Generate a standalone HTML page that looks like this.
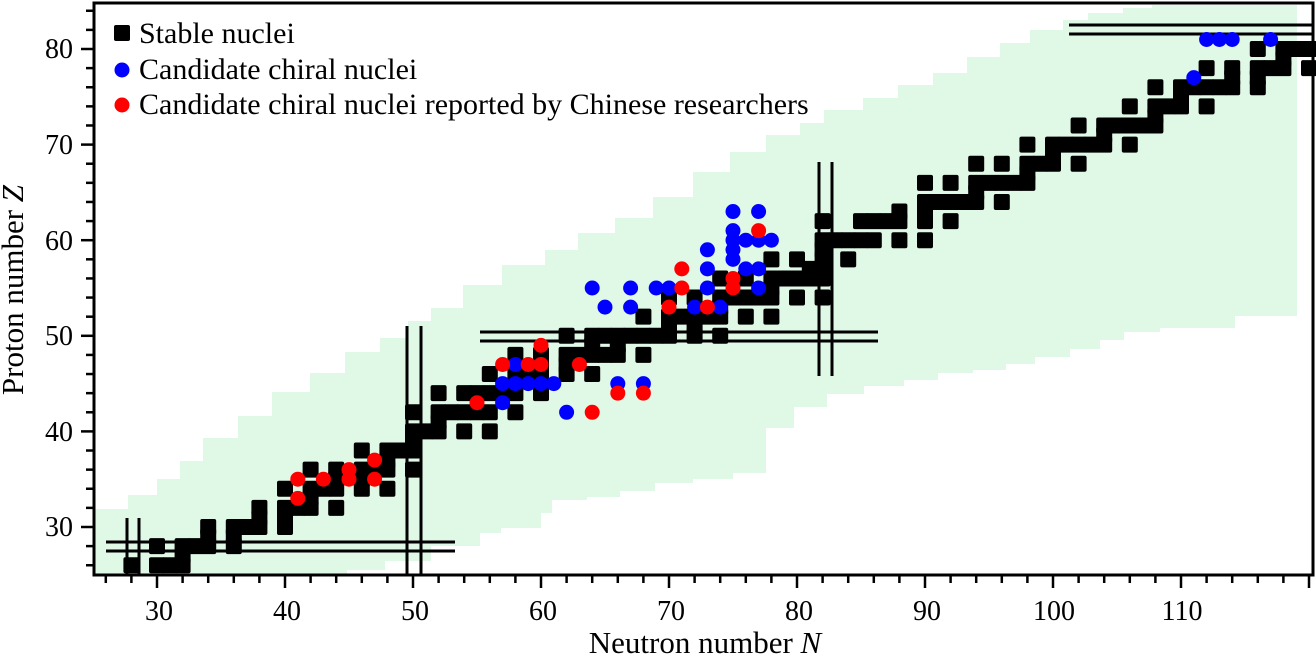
<!DOCTYPE html>
<html><head><meta charset="utf-8"><style>
html,body{margin:0;padding:0;background:#fff;}
svg{display:block;font-family:"Liberation Serif",serif;}
</style></head><body>
<svg id="s" width="1316" height="659" viewBox="0 0 1316 659" xmlns="http://www.w3.org/2000/svg">
<polygon fill="#e0f8e6" points="94,574 94,509 128,509 128,495 157,495 157,479 180,479 180,461 203,461 203,438 238,438 238,416 272,416 272,392 310,392 310,373 345,373 345,352 380,352 380,338 408,338 408,321 431,321 431,308 463,308 463,285 502,285 502,265 545,265 545,250 578,250 578,233 615,233 615,218 653,218 653,197 693,197 693,172 730,172 730,152 766,152 766,135 800,135 800,123 824,123 824,110 863,110 863,98 898,98 898,85 933,85 933,73 967,73 967,57 1000,57 1000,43 1030,43 1030,30 1063,30 1063,20 1088,20 1088,13 1123,13 1123,8 1152,8 1152,5 1297,5 1297,316 1235,316 1235,328 1160,328 1160,332 1124,332 1124,340 1100,340 1100,349 1070,349 1070,357 1035,357 1035,364 1006,364 1006,370 973,370 973,373 938,373 938,380 904,380 904,386 864,386 864,394 827,394 827,407 794,407 794,428 766,428 766,473 733,473 733,479 693,479 693,483 655,483 655,491 620,491 620,497 587,497 587,500 552,500 552,513 541,513 541,528 501,528 501,533 480,533 480,546 431,546 431,561 385,561 385,570 347,570 347,574"/>
<g id="sq"></g>
<g stroke="#000" stroke-width="3" fill="none">
<line x1="127" y1="518" x2="127" y2="574"/><line x1="139" y1="518" x2="139" y2="574"/>
<line x1="106" y1="542" x2="455" y2="542"/><line x1="106" y1="551" x2="455" y2="551"/>
<line x1="407" y1="326" x2="407" y2="574"/><line x1="421" y1="326" x2="421" y2="574"/>
<line x1="480" y1="332" x2="878" y2="332"/><line x1="480" y1="341" x2="878" y2="341"/>
<line x1="819" y1="162" x2="819" y2="376"/><line x1="832" y1="162" x2="832" y2="376"/>
<line x1="1069" y1="25" x2="1313" y2="25"/><line x1="1069" y1="34" x2="1313" y2="34"/>
</g>
<g id="dots"></g>
<rect x="94" y="3" width="1219" height="572" fill="none" stroke="#000" stroke-width="3"/>
<g id="ticks" stroke="#000" stroke-width="2.5"></g>
<g font-size="28" fill="#000">
<text x="73" y="58" text-anchor="end">80</text>
<text x="73" y="154" text-anchor="end">70</text>
<text x="73" y="250" text-anchor="end">60</text>
<text x="73" y="345" text-anchor="end">50</text>
<text x="73" y="441" text-anchor="end">40</text>
<text x="73" y="536" text-anchor="end">30</text>
<text x="159" y="620" text-anchor="middle">30</text>
<text x="287" y="620" text-anchor="middle">40</text>
<text x="415" y="620" text-anchor="middle">50</text>
<text x="543" y="620" text-anchor="middle">60</text>
<text x="671" y="620" text-anchor="middle">70</text>
<text x="799" y="620" text-anchor="middle">80</text>
<text x="927" y="620" text-anchor="middle">90</text>
<text x="1054" y="620" text-anchor="middle">100</text>
<text x="1182" y="620" text-anchor="middle">110</text>
<text x="705" y="653" text-anchor="middle" font-size="31">Neutron number <tspan font-style="italic">N</tspan></text>
<text transform="translate(23,290) rotate(-90)" text-anchor="middle" font-size="31">Proton number <tspan font-style="italic">Z</tspan></text>
<rect x="114" y="25" width="16" height="16" rx="2"/>
<text x="139" y="43" font-size="30">Stable nuclei</text>
<circle cx="122" cy="70" r="7.5" fill="#0000ff"/>
<text x="139" y="79" font-size="30">Candidate chiral nuclei</text>
<circle cx="122" cy="105" r="7.5" fill="#ff0000"/>
<text x="139" y="114" font-size="30">Candidate chiral nuclei reported by Chinese researchers</text>
</g>
</svg>
<script>
function X(n){return 157+(n-30)*12.8;}
function Y(z){return 527-(z-30)*9.56;}
var st={26:[28,30,31,32],27:[32],28:[30,32,33,34,36],29:[34,36],30:[34,36,37,38,40],31:[38,40],32:[38,40,41,42,44],33:[42],34:[40,42,43,44,46,48],35:[44,46],36:[42,44,46,47,48,50],37:[48],38:[46,48,49,50],39:[50],40:[50,51,52,54,56],41:[52],42:[50,52,53,54,55,56,58],44:[52,54,55,56,57,58,60],45:[58],46:[56,58,59,60,62,64],47:[60,62],48:[58,60,62,63,64,65,66,68],49:[64,66],50:[62,64,65,66,67,68,69,70,72,74],51:[70,72],52:[68,70,71,72,73,74,76,78],53:[74],54:[70,72,74,75,76,77,78,80,82],55:[78],56:[74,76,78,79,80,81,82],57:[81,82],58:[78,80,82,84],59:[82],60:[82,83,84,85,86,88,90],62:[82,85,86,87,88,90,92],63:[88,90],64:[90,91,92,93,94,96],65:[94],66:[90,92,94,95,96,97,98],67:[98],68:[94,96,98,99,100,102],69:[100],70:[98,100,101,102,103,104,106],71:[104],72:[102,104,105,106,107,108],73:[108],74:[106,108,109,110,112],75:[110],76:[108,110,111,112,113,114,116],77:[114,116],78:[112,114,116,117,118,120],79:[118],80:[116,118,119,120,121,122,124]};
var h="";
for(var z in st){st[z].forEach(function(n){var x=X(n),y=Y(+z);if(x>1320)return;
h+='<rect x="'+(x-8)+'" y="'+(y-8)+'" width="16" height="16" rx="2" fill="#000"/>';});}
document.getElementById("sq").innerHTML=h;
var blue=[[57,43],[57,45],[58,45],[59,45],[60,45],[61,45],[58,47],[62,42],[64,55],[65,53],[67,55],[67,53],[66,45],[68,45],[69,55],[70,55],[72,53],[74,53],[73,55],[73,57],[73,59],[75,63],[77,63],[75,61],[75,60],[75,59],[75,58],[76,60],[77,60],[78,60],[76,57],[77,57],[77,55],[111,77],[112,81],[113,81],[114,81],[117,81]];
var red=[[41,33],[41,35],[43,35],[45,36],[45,35],[47,37],[47,35],[55,43],[57,47],[59,47],[60,47],[60,49],[63,47],[64,42],[66,44],[68,44],[70,53],[71,57],[71,55],[73,53],[75,55],[75,56],[77,61]];
h="";
blue.forEach(function(p){h+='<circle cx="'+X(p[0])+'" cy="'+Y(p[1])+'" r="7.5" fill="#0000ff"/>';});
red.forEach(function(p){h+='<circle cx="'+X(p[0])+'" cy="'+Y(p[1])+'" r="7.5" fill="#ff0000"/>';});
document.getElementById("dots").innerHTML=h;
h="";
for(var n=26;n<=120;n+=2){var x=X(n),L=(n%10==0)?12:7;h+='<line x1="'+x+'" y1="576" x2="'+x+'" y2="'+(576+L)+'"/>';}
for(var z=26;z<=84;z+=2){var y=Y(z),L=(z%10==0)?12:7;h+='<line x1="93" y1="'+y+'" x2="'+(93-L)+'" y2="'+y+'"/>';}
document.getElementById("ticks").innerHTML=h;
</script>
</body></html>
